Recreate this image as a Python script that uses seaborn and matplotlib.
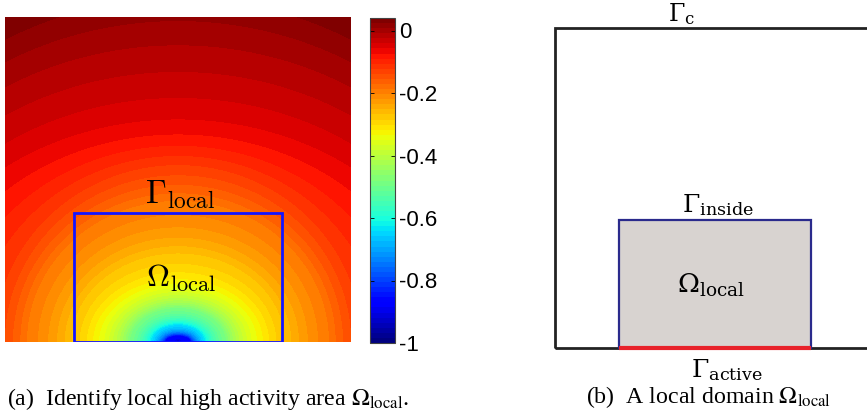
import numpy as np
import seaborn as sns
import matplotlib

matplotlib.use("Agg")
import matplotlib.pyplot as plt
from matplotlib.patches import Rectangle

# --- field: contour levels around the source at the bottom middle
# each level is an ellipse: half width / height in domain units (domain = 346 x 325)
level_value = [-1.0, -0.875, -0.64, -0.48, -0.32, -0.27, -0.19, -0.126, -0.064, -0.016, 0.01, 0.04]
level_halfwidth = [0.5, 12, 26, 48, 84, 106, 150, 180, 272, 330, 355, 375]
level_height = [0.5, 6, 17, 34, 62, 88, 140, 175, 215, 287, 325, 368]
domain_w, domain_h = 346, 325
source_x = 173
local_box = (69, 277, 0, 129)          # x0, x1, y0, y1 of Omega_local in panel (a)

cbar_ticks = [0, -0.2, -0.4, -0.6, -0.8, -1]
cbar_labels = ["0", "-0.2", "-0.4", "-0.6", "-0.8", "-1"]
vmin, vmax = -1.0, 0.04

# --- schematic panel (b)
outer_box = (0, 340, 0, 320)
inner_box = (64, 256, 0, 128)

# build the field from the read contours
xs = np.arange(domain_w) + 0.5 - source_x
ys = domain_h - (np.arange(domain_h) + 0.5)
DX, DY = np.meshgrid(xs, ys)
E = [np.hypot(DX / a, DY / b) for a, b in zip(level_halfwidth, level_height)]
field = np.full(DX.shape, level_value[-1])
field[E[0] < 1] = level_value[0]
for i in range(len(level_value) - 1):
    m = (E[i] >= 1) & (E[i + 1] < 1)
    t = (E[i][m] - 1) / (E[i][m] - E[i + 1][m])
    field[m] = level_value[i] + t * (level_value[i + 1] - level_value[i])

W, H = 867, 416
fig = plt.figure(figsize=(W / 100, H / 100), dpi=100)

ax = fig.add_axes([5 / W, 74 / H, 346 / W, 325 / H])
cax = fig.add_axes([370 / W, 73 / H, 25 / W, 325 / H])
sns.heatmap(field, ax=ax, cbar_ax=cax, cmap=plt.get_cmap("jet", 64),
            vmin=vmin, vmax=vmax, xticklabels=False, yticklabels=False)
ax.tick_params(left=False, bottom=False)
x0, x1, y0, y1 = local_box
ax.add_patch(Rectangle((x0, domain_h - y1), x1 - x0, y1 - y0, fill=False,
                       edgecolor="#1414ff", lw=2))
ax.text((x0 + x1) / 2 + 2, 186, r"$\Gamma_{\rm local}$", ha="center", va="baseline",
        fontsize=24, math_fontfamily="cm")
ax.text((x0 + x1) / 2 + 3, 270, r"$\Omega_{\rm local}$", ha="center", va="baseline",
        fontsize=23, math_fontfamily="cm")

cb = ax.collections[0].colorbar
cb.outline.set_linewidth(0.8)
cb.outline.set_edgecolor("#444444")
cb.set_ticks(cbar_ticks)
cb.set_ticklabels(cbar_labels)
cax.tick_params(direction="in", length=3, width=0.6, left=True, right=True,
                labelsize=16, pad=3, colors="black")
for t in cax.get_yticklabels():
    t.set_family("Liberation Sans")

# panel (b)
bx = fig.add_axes([555 / W, 68 / H, 312 / W, 320 / H])
bx.set_xlim(0, 312)
bx.set_ylim(0, 320)
bx.axis("off")
ox0, ox1, oy0, oy1 = outer_box
bx.add_patch(Rectangle((ox0, oy0), ox1 - ox0, oy1 - oy0, fill=False, edgecolor="#222222",
                       lw=2, clip_on=False))
ix0, ix1, iy0, iy1 = inner_box
bx.add_patch(Rectangle((ix0, iy0), ix1 - ix0, iy1 - iy0, facecolor="#d8d3d0",
                       edgecolor="#2a2a8c", lw=1.6, clip_on=False))
bx.plot([ix0, ix1], [iy0, iy0], color="#e8222a", lw=3, clip_on=False, solid_capstyle="butt")

lab = dict(ha="center", va="baseline", fontsize=18, math_fontfamily="dejavuserif")
bx.text(127, 327, r"$\Gamma_{\rm c}$", **dict(lab, fontsize=17))
bx.text(163, 136, r"$\Gamma_{\rm inside}$", **lab)
bx.text(156, 55, r"$\Omega_{\rm local}$", **dict(lab, fontsize=19))
bx.text(172, -29, r"$\Gamma_{\rm active}$", **lab)

fig.text(7 / W, 1 - 405 / H, r"(a)  Identify local high activity area $\Omega_{\rm local}$.",
         ha="left", va="baseline", fontsize=17.2, family="Liberation Serif", math_fontfamily="stix")
fig.text(709 / W, 1 - 403 / H, r"(b)  A local domain $\Omega_{\rm local}$",
         ha="center", va="baseline", fontsize=17.2, family="Liberation Serif", math_fontfamily="stix")

fig.savefig("out.png", dpi=100)
